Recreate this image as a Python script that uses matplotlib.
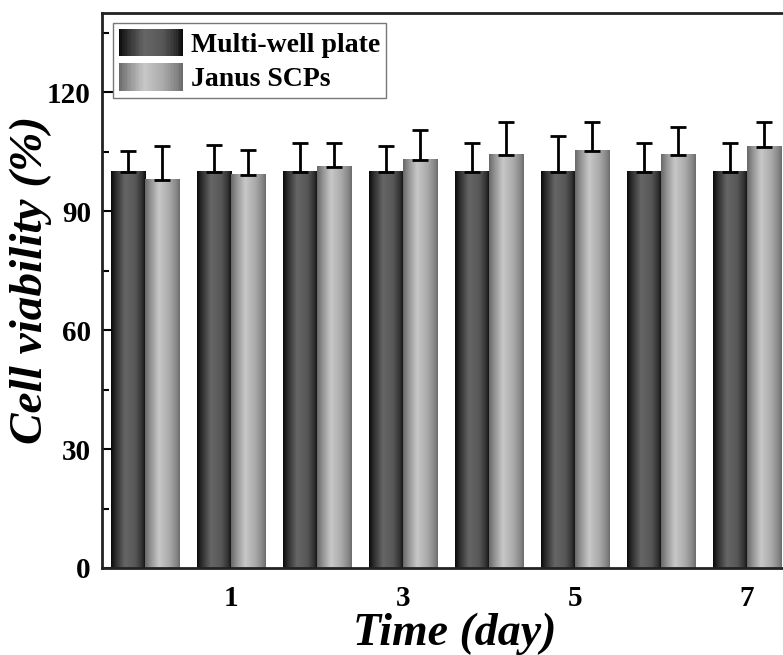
import matplotlib.pyplot as plt
import numpy as np
from matplotlib.patches import Rectangle
from matplotlib.legend_handler import HandlerBase
from matplotlib.colors import LinearSegmentedColormap

plt.rcParams['font.family'] = ['Liberation Serif', 'DejaVu Serif']
plt.rcParams['font.weight'] = 'bold'

# ---------------- data ----------------
days = [0, 1, 2, 3, 4, 5, 6, 7]
tick_days = [1, 3, 5, 7]

plate_mean = [100, 100, 100, 100, 100, 100, 100, 100]
plate_err = [5.1, 6.6, 7.2, 6.4, 7.2, 8.9, 7.3, 7.2]

janus_mean = [98.0, 99.2, 101.2, 103.0, 104.3, 105.3, 104.3, 106.2]
janus_err = [8.4, 6.3, 5.9, 7.4, 8.1, 7.1, 6.9, 6.2]

labels = ["Multi-well plate", "Janus SCPs"]

# horizontal shading, left edge -> right edge
dark_cmap = LinearSegmentedColormap.from_list(
    "dark", [(0, "#080808"), (0.12, "#2a2a2a"), (0.4, "#666666"),
             (0.7, "#575757"), (0.9, "#303030"), (1, "#0a0a0a")])
light_cmap = LinearSegmentedColormap.from_list(
    "light", [(0, "#686868"), (0.15, "#909090"), (0.4, "#c8c8c8"),
              (0.7, "#aaaaaa"), (0.92, "#838383"), (1, "#6a6a6a")])

grad = np.linspace(0, 1, 128).reshape(1, -1)


def shaded_bars(ax, x, heights, width, cmap):
    bars = ax.bar(x, heights, width, color="none", edgecolor="none", zorder=2)
    for b in bars:
        x0, y0 = b.get_x(), b.get_y()
        ax.imshow(grad, cmap=cmap, aspect="auto", interpolation="bicubic",
                  extent=[x0, x0 + b.get_width(), y0, y0 + b.get_height()],
                  zorder=2)
    return bars


class GradientHandler(HandlerBase):
    def __init__(self, cmap, n=40):
        super().__init__()
        self.cmap = cmap
        self.n = n

    def create_artists(self, legend, orig_handle, xdescent, ydescent,
                       width, height, fontsize, trans):
        arts = []
        w = width / self.n
        for k in range(self.n):
            c = self.cmap((k + 0.5) / self.n)
            arts.append(Rectangle((-xdescent + k * w, -ydescent), w * 1.05,
                                  height, facecolor=c, edgecolor="none",
                                  transform=trans))
        return arts


fig = plt.figure(figsize=(7.83, 6.55), dpi=100)
ax = fig.add_axes([102 / 783, 87 / 655, 688 / 783, 555 / 655])

x = np.array(days, dtype=float)
w = 0.4

shaded_bars(ax, x - w / 2, plate_mean, w, dark_cmap)
shaded_bars(ax, x + w / 2, janus_mean, w, light_cmap)

ax.errorbar(x - w / 2, plate_mean, yerr=[np.zeros(len(days)), plate_err],
            fmt="none", ecolor="black", elinewidth=2, capsize=6,
            capthick=2, zorder=3)
ax.errorbar(x + w / 2, janus_mean, yerr=[np.zeros(len(days)), janus_err],
            fmt="none", ecolor="black", elinewidth=2, capsize=6,
            capthick=2, zorder=3)

ax.set_xlim(-0.5, 7.5)
ax.set_ylim(0, 140)
ax.set_xticks(tick_days)
ax.set_xticklabels([str(d) for d in tick_days])
ax.set_yticks([0, 30, 60, 90, 120])
ax.set_yticks(np.arange(15, 140, 30), minor=True)

ax.tick_params(axis="both", which="major", direction="in", length=8,
               width=1.5, labelsize=21)
ax.tick_params(axis="y", which="major", pad=8)
ax.tick_params(axis="x", which="major", pad=12)
ax.tick_params(axis="y", which="minor", direction="in", length=5, width=1.5)
for s in ax.spines.values():
    s.set_linewidth(2)
    s.set_color("#222222")

ax.set_xlabel("Time (day)", fontsize=33, fontstyle="italic",
              fontweight="bold")
ax.set_ylabel("Cell viability (%)", fontsize=34, fontstyle="italic",
              fontweight="bold")
ax.xaxis.set_label_coords(0.513, -0.08)
ax.yaxis.set_label_coords(-0.072, 0.52)

h1 = Rectangle((0, 0), 1, 1)
h2 = Rectangle((0, 0), 1, 1)
leg = ax.legend([h1, h2], labels, loc="upper left",
                bbox_to_anchor=(0.016, 0.982),
                handler_map={h1: GradientHandler(dark_cmap),
                             h2: GradientHandler(light_cmap)},
                prop={"size": 20, "weight": "bold"}, fancybox=False,
                framealpha=1, edgecolor="#777777", handlelength=2.3,
                handleheight=1.15, handletextpad=0.3, labelspacing=0.2,
                borderpad=0.2, borderaxespad=0)
leg.get_frame().set_linewidth(1)

fig.savefig("out.png", dpi=100)
